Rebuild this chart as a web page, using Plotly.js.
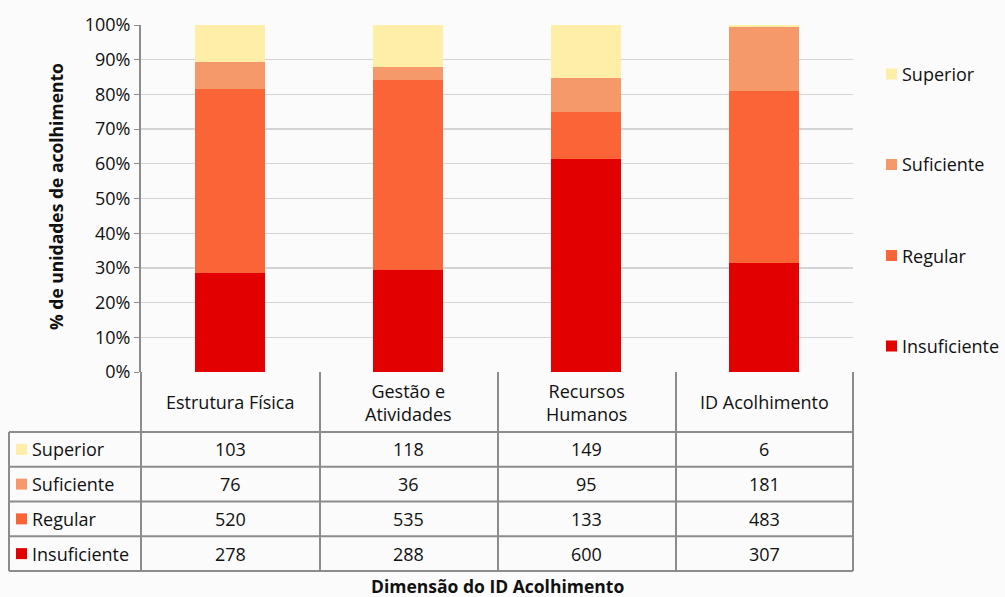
<!DOCTYPE html>
<html>
<head>
<meta charset="utf-8">
<script src="https://cdn.plot.ly/plotly-3.0.1.min.js"></script>
<style>html,body{margin:0;padding:0;background:#fbfbfb;}#chart{width:1005px;height:597px;}</style>
</head>
<body>
<div id="chart"></div>
<script>
// ---- data ----
const categories = ["Estrutura Física", "Gestão e Atividades", "Recursos Humanos", "ID Acolhimento"];
const categoryLabels = ["Estrutura Física", "Gestão e<br>Atividades", "Recursos<br>Humanos", "ID Acolhimento"];
const seriesNames = ["Insuficiente", "Regular", "Suficiente", "Superior"];
const insuficiente = [278, 288, 600, 307];
const regular = [520, 535, 133, 483];
const suficiente = [76, 36, 95, 181];
const superior = [103, 118, 149, 6];
const yTickVals = [0, 10, 20, 30, 40, 50, 60, 70, 80, 90, 100];
const yTickText = ["0%", "10%", "20%", "30%", "40%", "50%", "60%", "70%", "80%", "90%", "100%"];

// ---- styles ----
const colors = {"Insuficiente": "#E20000", "Regular": "#FA6436", "Suficiente": "#F6996A", "Superior": "#FFEEA8"};
const FONT = "Open Sans, Noto Sans, sans-serif";
const FS = 18;
const TXT = "#111111";
const W = 1005, H = 597;
const M = {l: 141, r: 152, t: 25, b: 225, autoexpand: false};
const PW = W - M.l - M.r, PH = H - M.t - M.b;
const px2x = x => (x - M.l) / PW;
const px2y = y => (H - M.b - y) / PH;

const seriesValues = [insuficiente, regular, suficiente, superior];
const traces = seriesNames.map((name, i) => ({
  type: "bar",
  name: name,
  x: categories,
  y: seriesValues[i],
  marker: {color: colors[name], line: {width: 0}},
  showlegend: false,
  hoverinfo: "x+y+name"
}));

// ---- data table (shapes + annotations) ----
const lineColor = "#8c8c8c";
const shapes = [];
const annotations = [];
const tableTop = 372, headerBottom = 432, rowH = 34.75;
const tableLeft = 9, tableRight = 853;
const rowOrder = ["Superior", "Suficiente", "Regular", "Insuficiente"];
const rowData = {"Superior": superior, "Suficiente": suficiente, "Regular": regular, "Insuficiente": insuficiente};
const colEdges = [141, 320, 498, 676, 853];

colEdges.forEach(x => shapes.push({type: "line", xref: "paper", yref: "paper",
  x0: px2x(x), x1: px2x(x), y0: px2y(tableTop), y1: px2y(headerBottom + 4 * rowH),
  line: {color: lineColor, width: 2}}));
shapes.push({type: "line", xref: "paper", yref: "paper",
  x0: px2x(tableLeft), x1: px2x(tableLeft), y0: px2y(headerBottom), y1: px2y(headerBottom + 4 * rowH),
  line: {color: lineColor, width: 2}});
for (let r = 0; r <= 4; r++) {
  const y = headerBottom + r * rowH;
  shapes.push({type: "line", xref: "paper", yref: "paper",
    x0: px2x(tableLeft), x1: px2x(tableRight), y0: px2y(y), y1: px2y(y),
    line: {color: lineColor, width: 2}});
}
categories.forEach((c, i) => annotations.push({xref: "x", yref: "paper", x: c, y: px2y((tableTop + headerBottom) / 2),
  text: categoryLabels[i], showarrow: false, font: {family: FONT, size: FS, color: TXT}, xanchor: "center", yanchor: "middle"}));
rowOrder.forEach((name, r) => {
  const yc = headerBottom + (r + 0.5) * rowH;
  shapes.push({type: "rect", xref: "paper", yref: "paper",
    x0: px2x(16), x1: px2x(27), y0: px2y(yc - 5.5), y1: px2y(yc + 5.5),
    fillcolor: colors[name], line: {width: 0}});
  annotations.push({xref: "paper", yref: "paper", x: px2x(30), y: px2y(yc), text: name, showarrow: false,
    xanchor: "left", yanchor: "middle", font: {family: FONT, size: FS, color: TXT}});
  categories.forEach((c, i) => annotations.push({xref: "x", yref: "paper", x: c, y: px2y(yc),
    text: String(rowData[name][i]), showarrow: false, xanchor: "center", yanchor: "middle",
    font: {family: FONT, size: FS, color: TXT}}));
});

// ---- legend (right side) ----
const legendY = [74, 164.5, 255.5, 346];
rowOrder.forEach((name, r) => {
  const yc = legendY[r];
  shapes.push({type: "rect", xref: "paper", yref: "paper",
    x0: px2x(886), x1: px2x(897), y0: px2y(yc - 5.5), y1: px2y(yc + 5.5),
    fillcolor: colors[name], line: {width: 0}});
  annotations.push({xref: "paper", yref: "paper", x: px2x(900), y: px2y(yc), text: name, showarrow: false,
    xanchor: "left", yanchor: "middle", font: {family: FONT, size: FS, color: TXT}});
});

// ---- axis titles ----
annotations.push({xref: "paper", yref: "paper", x: px2x(497), y: px2y(586), text: "<b>Dimensão do ID Acolhimento</b>",
  showarrow: false, xanchor: "center", yanchor: "middle", font: {family: FONT, size: 17.5, color: TXT}});
annotations.push({xref: "paper", yref: "paper", x: px2x(56), y: px2y(197), text: "<b>% de unidades de acolhimento</b>",
  textangle: -90, showarrow: false, xanchor: "center", yanchor: "middle", font: {family: FONT, size: 17.5, color: TXT}});

const layout = {
  width: W, height: H,
  margin: M,
  paper_bgcolor: "#fbfbfb",
  plot_bgcolor: "#fbfbfb",
  barmode: "stack",
  barnorm: "percent",
  bargap: 0.605,
  showlegend: false,
  font: {family: FONT, size: FS, color: TXT},
  xaxis: {showticklabels: false, showgrid: false, zeroline: false, showline: false, ticks: ""},
  yaxis: {range: [0, 100], tickvals: yTickVals, ticktext: yTickText, showgrid: true, gridcolor: "#d4d4d4", gridwidth: 1.3,
    zeroline: false, showline: true, linecolor: lineColor, linewidth: 2, ticks: "outside", ticklen: 5, tickcolor: lineColor,
    tickfont: {family: FONT, size: FS, color: TXT}},
  shapes: shapes,
  annotations: annotations
};

Plotly.newPlot("chart", traces, layout, {displayModeBar: false, staticPlot: true});
</script>
</body>
</html>
